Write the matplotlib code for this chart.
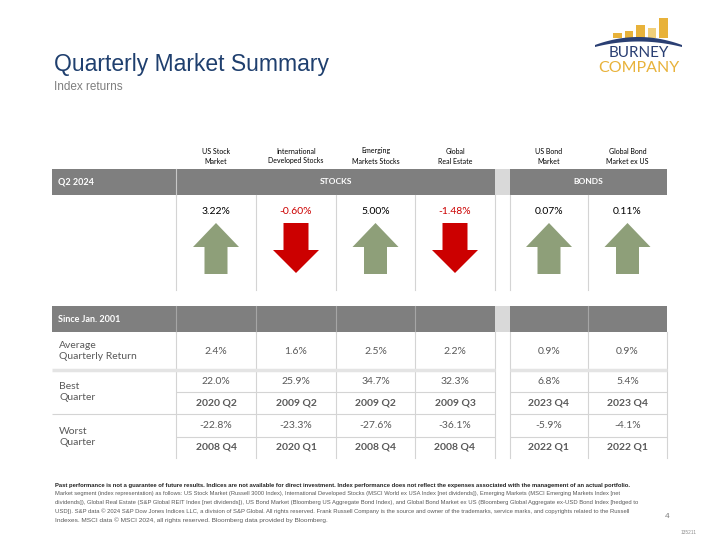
import numpy as np
import matplotlib.pyplot as plt
from matplotlib.patches import Rectangle, FancyArrow, Polygon
from matplotlib import font_manager

# ---- data ----
col_labels = ["US Stock\nMarket", "International\nDeveloped Stocks", "Emerging\nMarkets Stocks",
              "Global\nReal Estate", "US Bond\nMarket", "Global Bond\nMarket ex US"]
q2_returns = [3.22, -0.60, 5.00, -1.48, 0.07, 0.11]
avg_return = [2.4, 1.6, 2.5, 2.2, 0.9, 0.9]
best_return = [22.0, 25.9, 34.7, 32.3, 6.8, 5.4]
best_quarter = ["2020 Q2", "2009 Q2", "2009 Q2", "2009 Q3", "2023 Q4", "2023 Q4"]
worst_return = [-22.8, -23.3, -27.6, -36.1, -5.9, -4.1]
worst_quarter = ["2008 Q4", "2020 Q1", "2008 Q4", "2008 Q4", "2022 Q1", "2022 Q1"]
logo_bars = [5, 7, 13, 10, 20]

footer = [
    "Past performance is not a guarantee of future results. Indices are not available for direct investment. Index performance does not reflect the expenses associated with the management of an actual portfolio.",
    "Market segment (index representation) as follows: US Stock Market (Russell 3000 Index), International Developed Stocks (MSCI World ex USA Index [net dividends]), Emerging Markets (MSCI Emerging Markets Index [net",
    "dividends]), Global Real Estate (S&P Global REIT Index [net dividends]), US Bond Market (Bloomberg US Aggregate Bond Index), and Global Bond Market ex US (Bloomberg Global Aggregate ex-USD Bond Index [hedged to",
    "USD]). S&P data \u00a9 2024 S&P Dow Jones Indices LLC, a division of S&P Global. All rights reserved. Frank Russell Company is the source and owner of the trademarks, service marks, and copyrights related to the Russell",
    "Indexes. MSCI data \u00a9 MSCI 2024, all rights reserved. Bloomberg data provided by Bloomberg.",
]
footer_widths = [565, 563, 576, 563, 270]

# ---- layout ----
edges = [(176, 256), (256, 336), (336, 415), (415, 495), (510, 588), (588, 667)]
centers = [(a + b) / 2 for a, b in edges]
left = 52
gap = (495, 510)

names = {f.name for f in font_manager.fontManager.ttflist}
body = "Lato" if "Lato" in names else "DejaVu Sans"
narrow = "Liberation Sans Narrow" if "Liberation Sans Narrow" in names else "Liberation Sans"

HEAD = "#7f7f7f"
GAPC = "#d9d9d9"
LINE = "#d4d4d4"
TXT = "#595959"
GREEN = "#8e9f79"
RED = "#cc0000"
NAVY = "#1f3f6e"
GOLD = "#e8b23a"

fig = plt.figure(figsize=(7.2, 5.4), dpi=100)
ax = fig.add_axes([0, 0, 1, 1])
ax.set_xlim(0, 720)
ax.set_ylim(540, 0)
ax.axis("off")

# title
ax.text(54, 64, "Quarterly Market Summary", fontsize=16.5, color=NAVY, family="Liberation Sans",
        va="center", ha="left")
ax.text(54, 87, "Index returns", fontsize=8.5, color="#7f7f7f", family="Liberation Sans",
        va="center", ha="left")

# logo
bx = [613, 624.5, 636, 647.5, 659]
for i, (x, h) in enumerate(zip(bx, logo_bars)):
    ax.add_patch(Rectangle((x, 38 - h), 8.5, h, color="#f1cf7a" if i == 3 else GOLD, lw=0))
xs = np.linspace(595, 682, 60)
t = (xs - 638.5) / 43.5
top = 37 + 8 * t ** 2
bot = top + 4.5 - 2.5 * t ** 2
ax.add_patch(Polygon(np.r_[np.c_[xs, top], np.c_[xs[::-1], bot[::-1]]], color="#2a3f73", lw=0))
ax.text(638.5, 53, "BURNEY", fontsize=11, color="#2a3f73", family=body,
        ha="center", va="center")
ax.text(638.5, 68, "COMPANY", fontsize=11.5, color=GOLD, family=body,
        ha="center", va="center")

# column labels
for c, lab in zip(centers, col_labels):
    ax.text(c, 156, lab, fontsize=5, family=body, ha="center", va="center", linespacing=1.5)

# Q2 header bar
ax.add_patch(Rectangle((left, 169), 667 - left, 26, color=HEAD, lw=0))
ax.add_patch(Rectangle((gap[0], 169), gap[1] - gap[0], 26, color=GAPC, lw=0))
ax.plot([176, 176], [169, 195], color="#c8c8c8", lw=0.8)
ax.text(58, 182, "Q2 2024", fontsize=6.5, color="white", family=body, weight="bold", va="center")
ax.text((176 + 495) / 2, 182, "STOCKS", fontsize=6, color="white", family=body, weight="bold",
        ha="center", va="center")
ax.text((510 + 667) / 2, 182, "BONDS", fontsize=6, color="white", family=body, weight="bold",
        ha="center", va="center")

for x in [176, 256, 336, 415, 495, 510, 588]:
    ax.plot([x, x], [195, 290], color=LINE, lw=0.8)

for c, v in zip(centers, q2_returns):
    ax.text(c, 211, f"{v:.2f}%", fontsize=7.5, family=body, color=RED if v < 0 else "black",
            ha="center", va="center")
    if v >= 0:
        ax.add_patch(FancyArrow(c, 274, 0, -51, width=23, head_width=46, head_length=24,
                                length_includes_head=True, color=GREEN, lw=0))
    else:
        ax.add_patch(FancyArrow(c, 223, 0, 50, width=25, head_width=46, head_length=23,
                                length_includes_head=True, color=RED, lw=0))

# Since Jan. 2001 table
ax.add_patch(Rectangle((left, 306), 667 - left, 26, color=HEAD, lw=0))
ax.add_patch(Rectangle((gap[0], 306), gap[1] - gap[0], 26, color=GAPC, lw=0))
for x in [176, 256, 336, 415, 588]:
    ax.plot([x, x], [306, 332], color="#a6a6a6", lw=0.8)
ax.text(58, 319, "Since Jan. 2001", fontsize=6.5, color="white", family=body, weight="bold",
        va="center")

for x in [176, 256, 336, 415, 495, 510, 588, 667]:
    ax.plot([x, x], [332, 458], color=LINE, lw=0.8)

for y, x0, lw, col in [(370, left, 2.5, "#e4e4e4"), (392, 176, 0.8, LINE),
                       (414, left, 0.8, LINE), (437, 176, 0.8, LINE)]:
    ax.plot([x0, 495], [y, y], color=col, lw=lw, solid_capstyle="butt")
    ax.plot([510, 667], [y, y], color=col, lw=lw, solid_capstyle="butt")

row_labels = [("Average\nQuarterly Return", 351), ("Best\nQuarter", 392), ("Worst\nQuarter", 437)]
for lab, y in row_labels:
    ax.text(59, y, lab, fontsize=7.5, color=TXT, family=body, va="center", linespacing=1.3)

for i, c in enumerate(centers):
    ax.text(c, 351, f"{avg_return[i]:.1f}%", fontsize=7.5, color=TXT, family=body, ha="center", va="center")
    ax.text(c, 381, f"{best_return[i]:.1f}%", fontsize=7.5, color=TXT, family=body, ha="center", va="center")
    ax.text(c, 403, best_quarter[i], fontsize=7.5, color=TXT, family=body, weight="bold",
            ha="center", va="center")
    ax.text(c, 426, f"{worst_return[i]:.1f}%", fontsize=7.5, color=TXT, family=body, ha="center", va="center")
    ax.text(c, 447, worst_quarter[i], fontsize=7.5, color=TXT, family=body, weight="bold",
            ha="center", va="center")

# footer, sized to the widths of the original lines
fig.canvas.draw()
r = fig.canvas.get_renderer()
for i, (line, w) in enumerate(zip(footer, footer_widths)):
    t = ax.text(55, 485 + i * 8.8, line, fontsize=4, family=narrow, color="#222222" if i == 0 else "#595959",
                weight="bold" if i == 0 else "normal", va="center", ha="left")
    cur = t.get_window_extent(r).width
    t.set_fontsize(4 * w / cur)

ax.text(665, 516, "4", fontsize=6, color="#7f7f7f", family="Liberation Sans", va="center")
ax.text(681, 532, "135211", fontsize=3.5, color="#8f8f8f", family="Liberation Sans", va="center")

fig.savefig("out.png", dpi=100)
